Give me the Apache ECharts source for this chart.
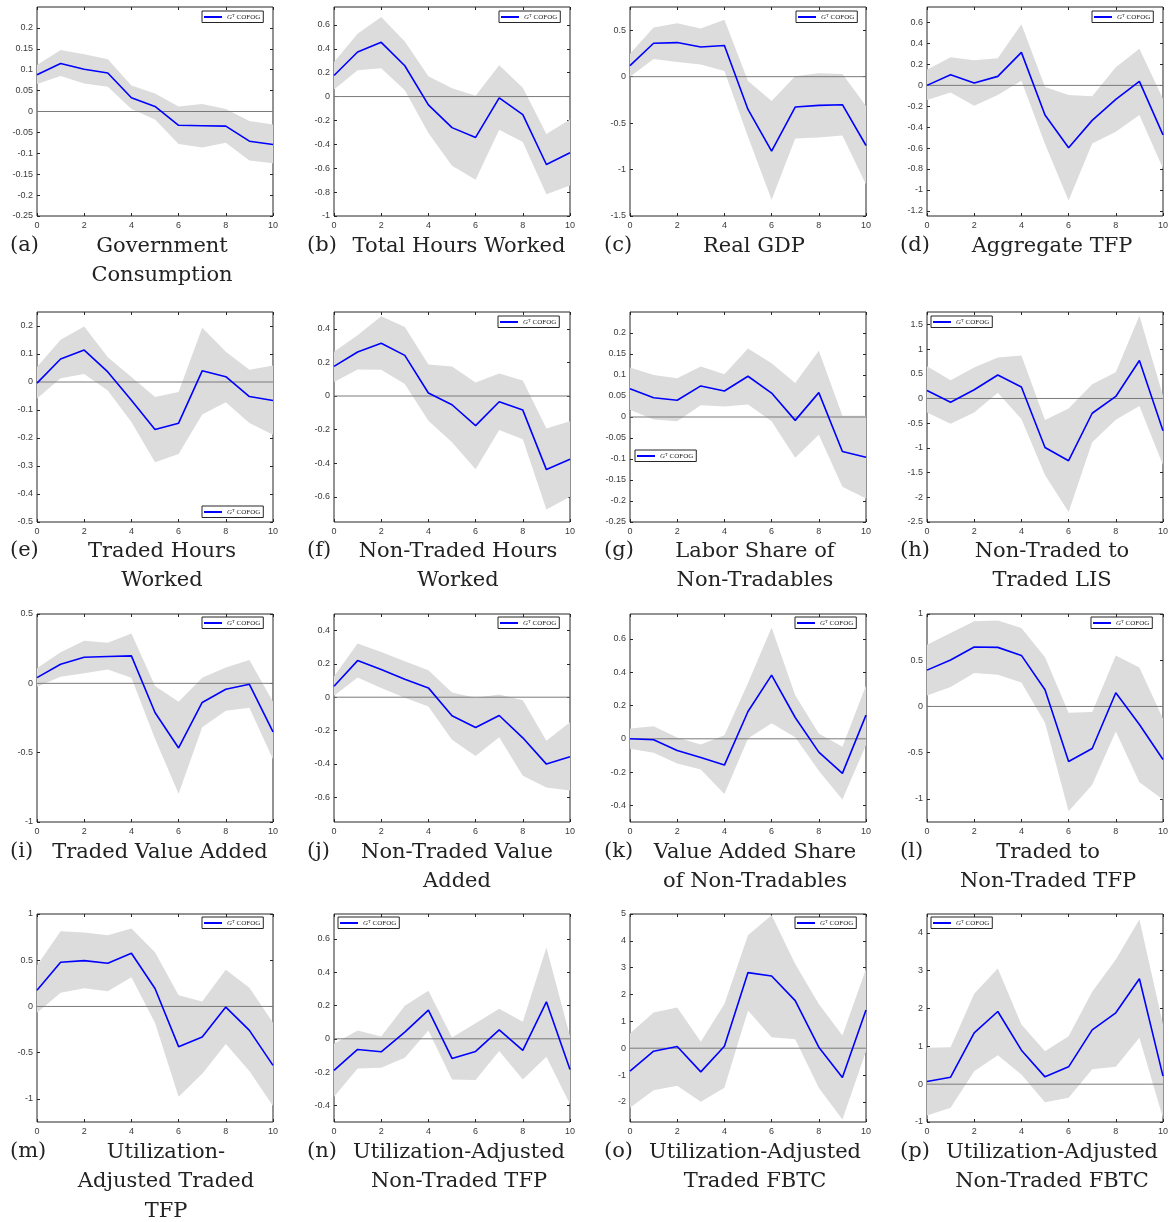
<!DOCTYPE html>
<html><head><meta charset="utf-8">
<script src="https://cdn.jsdelivr.net/npm/echarts@6/dist/echarts.min.js"></script>
<style>html,body{margin:0;padding:0;background:#fff}#c{width:1174px;height:1222px}</style>
</head><body><div id="c"></div>
<script>
// ---------- DATA ----------
const horizon = [0,1,2,3,4,5,6,7,8,9,10];
const xTicks = [0,2,4,6,8,10];
const seriesName = 'GT COFOG';

// (a) Government Consumption
const midA = [0.088,0.115,0.101,0.092,0.033,0.012,-0.033,-0.034,-0.035,-0.071,-0.079];
const hiA  = [0.111,0.147,0.137,0.125,0.062,0.043,0.012,0.018,0.006,-0.023,-0.031];
const loA  = [0.066,0.085,0.067,0.059,0.006,-0.019,-0.078,-0.086,-0.075,-0.117,-0.124];
const ticksA = [-0.25,-0.2,-0.15,-0.1,-0.05,0,0.05,0.1,0.15,0.2];
const rangeA = [-0.25,0.25];
// (b) Total Hours Worked
const midB = [0.176,0.373,0.454,0.258,-0.07,-0.26,-0.342,-0.011,-0.151,-0.569,-0.47];
const hiB  = [0.29,0.527,0.667,0.462,0.171,0.07,0.006,0.263,0.073,-0.314,-0.193];
const loB  = [0.059,0.221,0.238,0.053,-0.305,-0.58,-0.697,-0.277,-0.381,-0.818,-0.745];
const ticksB = [-1,-0.8,-0.6,-0.4,-0.2,0,0.2,0.4,0.6];
const rangeB = [-1,0.75];
// (c) Real GDP
const midC = [0.119,0.36,0.367,0.32,0.335,-0.353,-0.802,-0.327,-0.309,-0.302,-0.741];
const hiC  = [0.248,0.529,0.576,0.518,0.612,-0.047,-0.263,0.004,0.036,0.029,-0.317];
const loC  = [0,0.19,0.158,0.13,0.061,-0.647,-1.324,-0.665,-0.655,-0.633,-1.162];
const ticksC = [-1.5,-1,-0.5,0,0.5];
const rangeC = [-1.5,0.75];
// (d) Aggregate TFP
const midD = [0,0.102,0.022,0.086,0.316,-0.284,-0.597,-0.335,-0.134,0.038,-0.473];
const hiD  = [0.15,0.268,0.24,0.259,0.585,-0.016,-0.093,-0.105,0.173,0.351,-0.131];
const loD  = [-0.14,-0.067,-0.195,-0.093,0.045,-0.562,-1.102,-0.556,-0.444,-0.284,-0.795];
const ticksD = [-1.2,-1,-0.8,-0.6,-0.4,-0.2,0,0.2,0.4,0.6];
const rangeD = [-1.25,0.75];
// (e) Traded Hours Worked
const midE = [-0.004,0.082,0.114,0.036,-0.065,-0.17,-0.147,0.04,0.019,-0.052,-0.066];
const hiE  = [0.054,0.151,0.198,0.088,0.018,-0.054,-0.036,0.194,0.108,0.044,0.059];
const loE  = [-0.059,0.013,0.029,-0.03,-0.143,-0.287,-0.257,-0.116,-0.072,-0.146,-0.188];
const ticksE = [-0.5,-0.4,-0.3,-0.2,-0.1,0,0.1,0.2];
const rangeE = [-0.5,0.25];
// (f) Non-Traded Hours Worked
const midF = [0.176,0.262,0.314,0.242,0.018,-0.052,-0.176,-0.034,-0.084,-0.438,-0.376];
const hiF  = [0.264,0.362,0.474,0.41,0.188,0.176,0.08,0.134,0.092,-0.194,-0.15];
const loF  = [0.084,0.158,0.156,0.072,-0.148,-0.276,-0.436,-0.202,-0.258,-0.676,-0.6];
const ticksF = [-0.6,-0.4,-0.2,0,0.2,0.4];
const rangeF = [-0.75,0.5];
// (g) Labor Share of Non-Tradables
const midG = [0.067,0.046,0.04,0.074,0.062,0.097,0.057,-0.008,0.058,-0.082,-0.096];
const hiG  = [0.118,0.1,0.092,0.12,0.102,0.163,0.128,0.081,0.158,0.003,0.003];
const loG  = [0.017,-0.006,-0.01,0.028,0.025,0.03,-0.01,-0.097,-0.042,-0.166,-0.194];
const ticksG = [-0.25,-0.2,-0.15,-0.1,-0.05,0,0.05,0.1,0.15,0.2];
const rangeG = [-0.25,0.25];
// (h) Non-Traded to Traded LIS
const midH = [0.163,-0.075,0.177,0.476,0.231,-0.993,-1.259,-0.299,0.041,0.769,-0.653];
const hiH  = [0.653,0.367,0.626,0.83,0.871,-0.435,-0.204,0.286,0.531,1.673,0.054];
const loH  = [-0.286,-0.51,-0.286,0.116,-0.415,-1.551,-2.299,-0.884,-0.429,-0.15,-1.347];
const ticksH = [-2.5,-2,-1.5,-1,-0.5,0,0.5,1,1.5];
const rangeH = [-2.5,1.75];
// (i) Traded Value Added
const midI = [0.041,0.138,0.188,0.193,0.198,-0.21,-0.466,-0.138,-0.043,-0.007,-0.35];
const hiI  = [0.109,0.225,0.307,0.292,0.36,-0.019,-0.133,0.041,0.114,0.169,-0.133];
const loI  = [-0.024,0.048,0.072,0.099,0.041,-0.399,-0.797,-0.316,-0.198,-0.176,-0.548];
const ticksI = [-1,-0.5,0,0.5];
const rangeI = [-1,0.5];
// (j) Non-Traded Value Added
const midJ = [0.066,0.22,0.166,0.108,0.056,-0.112,-0.182,-0.11,-0.244,-0.402,-0.358];
const hiJ  = [0.124,0.322,0.272,0.216,0.162,0.028,-0.004,0.016,-0.018,-0.262,-0.15];
const loJ  = [0.008,0.118,0.056,-0.004,-0.056,-0.256,-0.354,-0.24,-0.472,-0.542,-0.56];
const ticksJ = [-0.6,-0.4,-0.2,0,0.2,0.4];
const rangeJ = [-0.75,0.5];
// (k) Value Added Share of Non-Tradables
const midK = [0,-0.006,-0.07,-0.112,-0.158,0.164,0.383,0.128,-0.08,-0.208,0.142];
const hiK  = [0.062,0.076,0.008,-0.034,0.022,0.335,0.669,0.261,0.032,-0.048,0.321];
const loK  = [-0.06,-0.084,-0.148,-0.184,-0.331,0.002,0.094,0.01,-0.192,-0.365,-0.038];
const ticksK = [-0.4,-0.2,0,0.2,0.4,0.6];
const rangeK = [-0.5,0.75];
// (l) Traded to Non-Traded TFP
const midL = [0.393,0.502,0.643,0.639,0.552,0.181,-0.596,-0.455,0.148,-0.195,-0.574];
const hiL  = [0.668,0.794,0.921,0.931,0.848,0.531,-0.069,-0.061,0.552,0.422,-0.134];
const loL  = [0.119,0.209,0.361,0.343,0.26,-0.177,-1.134,-0.848,-0.271,-0.819,-1.007];
const ticksL = [-1,-0.5,0,0.5,1];
const rangeL = [-1.25,1];
// (m) Utilization-Adjusted Traded TFP
const midM = [0.176,0.478,0.496,0.468,0.576,0.194,-0.435,-0.331,-0.007,-0.259,-0.637];
const hiM  = [0.442,0.813,0.799,0.77,0.842,0.586,0.122,0.054,0.396,0.201,-0.176];
const loM  = [-0.068,0.147,0.198,0.165,0.317,-0.176,-0.978,-0.727,-0.406,-0.698,-1.076];
const ticksM = [-1,-0.5,0,0.5,1];
const rangeM = [-1.25,1];
// (n) Utilization-Adjusted Non-Traded TFP
const midN = [-0.19,-0.064,-0.078,0.04,0.172,-0.118,-0.076,0.054,-0.07,0.222,-0.184];
const hiN  = [-0.03,0.05,0.014,0.198,0.289,0.008,0.094,0.18,0.102,0.549,0.016];
const loN  = [-0.349,-0.178,-0.174,-0.114,0.05,-0.244,-0.248,-0.074,-0.244,-0.108,-0.393];
const ticksN = [-0.4,-0.2,0,0.2,0.4,0.6];
const rangeN = [-0.5,0.75];
// (o) Utilization-Adjusted Traded FBTC
const midO = [-0.856,-0.112,0.062,-0.881,0.074,2.816,2.692,1.774,0.037,-1.092,1.427];
const hiO  = [0.546,1.328,1.514,0.236,1.65,4.206,4.95,3.139,1.65,0.471,2.953];
const loO  = [-2.221,-1.563,-1.402,-1.998,-1.476,1.402,0.409,0.335,-1.476,-2.655,-0.112];
const ticksO = [-2,-1,0,1,2,3,4,5];
const rangeO = [-2.75,5];
// (p) Utilization-Adjusted Non-Traded FBTC
const midP = [0.071,0.185,1.358,1.922,0.899,0.194,0.459,1.437,1.887,2.787,0.212];
const hiP  = [0.961,0.979,2.39,3.06,1.578,0.873,1.27,2.443,3.298,4.356,1.578];
const loP  = [-0.829,-0.626,0.344,0.767,0.256,-0.476,-0.362,0.397,0.459,1.226,-0.891];
const ticksP = [-1,0,1,2,3,4];
const rangeP = [-1,4.5];

const tags = ['(a)','(b)','(c)','(d)','(e)','(f)','(g)','(h)','(i)','(j)','(k)','(l)','(m)','(n)','(o)','(p)'];
const captions = [
  'Government\nConsumption','Total Hours Worked','Real GDP','Aggregate TFP',
  'Traded Hours\nWorked','Non-Traded Hours\nWorked','Labor Share of\nNon-Tradables','Non-Traded to\nTraded LIS',
  'Traded Value Added','Non-Traded Value\nAdded','Value Added Share\nof Non-Tradables','Traded to\nNon-Traded TFP',
  'Utilization-\nAdjusted Traded\nTFP','Utilization-Adjusted\nNon-Traded TFP','Utilization-Adjusted\nTraded FBTC','Utilization-Adjusted\nNon-Traded FBTC'
];

const panels = [
  [midA,hiA,loA,ticksA,rangeA],[midB,hiB,loB,ticksB,rangeB],[midC,hiC,loC,ticksC,rangeC],[midD,hiD,loD,ticksD,rangeD],
  [midE,hiE,loE,ticksE,rangeE],[midF,hiF,loF,ticksF,rangeF],[midG,hiG,loG,ticksG,rangeG],[midH,hiH,loH,ticksH,rangeH],
  [midI,hiI,loI,ticksI,rangeI],[midJ,hiJ,loJ,ticksJ,rangeJ],[midK,hiK,loK,ticksK,rangeK],[midL,hiL,loL,ticksL,rangeL],
  [midM,hiM,loM,ticksM,rangeM],[midN,hiN,loN,ticksN,rangeN],[midO,hiO,loO,ticksO,rangeO],[midP,hiP,loP,ticksP,rangeP]
];

// ---------- LAYOUT ----------
const colLeft = [37, 334, 630, 927];
const plotW = 236;
const rowTop = [7, 312, 614, 914];
const rowH = [209, 210, 208, 208];
const tagX = [10, 307, 604, 900];
const captionY = [246, 551, 852, 1152];
const captionX = [162,459,754,1052, 162,458,755,1052, 160,457,755,1048, 166,459,755,1052];
const legendPos = [[202,11],[499,11],[796,11],[1092,11],[202,506],[498,316],[635,450],[931,316],
                   [202,617],[498,617],[795,617],[1091,617],[202,917],[338,917],[795,917],[931,917]];

const axisColor = '#262626';
const labelColor = '#3a3a3a';
const sans = '"Liberation Sans", Arial, sans-serif';
const serif = '"DejaVu Serif", serif';

const grid = [], xAxis = [], yAxis = [], series = [], legend = [], graphic = [];
const N = panels.length;

panels.forEach((p, k) => {
  const [mid, hi, lo, ticks, range] = p;
  const r = Math.floor(k / 4), c = k % 4;
  grid.push({left: colLeft[c], top: rowTop[r], width: plotW, height: rowH[r],
    show: true, borderColor: axisColor, borderWidth: 1, backgroundColor: 'transparent', containLabel: false});
  const tickStyle = {lineStyle: {color: axisColor, width: 1}};
  const noLine = {show: false, onZero: false};
  xAxis[k] = {gridIndex: k, type: 'value', position: 'bottom', min: 0, max: 10,
    axisLine: noLine, splitLine: {show: false},
    axisTick: Object.assign({inside: true, length: 3, customValues: xTicks}, tickStyle),
    axisLabel: {customValues: xTicks, fontSize: 9, color: labelColor, fontFamily: sans, margin: 5}};
  xAxis[k + N] = {gridIndex: k, type: 'value', position: 'top', min: 0, max: 10,
    axisLine: noLine, splitLine: {show: false},
    axisTick: Object.assign({inside: true, length: 3, customValues: xTicks}, tickStyle),
    axisLabel: {show: false}};
  yAxis[k] = {gridIndex: k, type: 'value', position: 'left', min: range[0], max: range[1],
    axisLine: noLine, splitLine: {show: false},
    axisTick: Object.assign({inside: true, length: 3, customValues: ticks}, tickStyle),
    axisLabel: {customValues: ticks, fontSize: 9, color: labelColor, fontFamily: sans, margin: 4,
      formatter: v => String(v)}};
  yAxis[k + N] = {gridIndex: k, type: 'value', position: 'right', min: range[0], max: range[1],
    axisLine: noLine, splitLine: {show: false},
    axisTick: Object.assign({inside: true, length: 3, customValues: ticks}, tickStyle),
    axisLabel: {show: false}};

  series.push({
    type: 'custom', name: 'band' + k, xAxisIndex: k, yAxisIndex: k, silent: true, z: 1,
    data: [[0, 0]],
    renderItem: (params, api) => {
      const pts = [];
      for (let i = 0; i < horizon.length; i++) pts.push(api.coord([horizon[i], hi[i]]));
      for (let i = horizon.length - 1; i >= 0; i--) pts.push(api.coord([horizon[i], lo[i]]));
      return {type: 'polygon', shape: {points: pts}, style: {fill: '#dcdcdc', stroke: null}};
    }
  });
  series.push({
    type: 'line', name: 'zero' + k, xAxisIndex: k, yAxisIndex: k, silent: true, z: 2,
    symbol: 'none', data: [[0, 0], [10, 0]],
    lineStyle: {color: '#7a7a7a', width: 1}, animation: false
  });
  series.push({
    type: 'line', name: seriesName, xAxisIndex: k, yAxisIndex: k, z: 3,
    symbol: 'none', showSymbol: false, color: '#0000ff',
    data: horizon.map((x, i) => [x, mid[i]]),
    lineStyle: {color: '#0000ff', width: 1.6}, animation: false
  });
  legend.push({
    data: [seriesName], left: legendPos[k][0], top: legendPos[k][1], z: 10,
    icon: 'rect', itemWidth: 18, itemHeight: 2, padding: [2, 3, 2, 2],
    borderColor: axisColor, borderWidth: 1, borderRadius: 0, backgroundColor: '#fff',
    selectedMode: false,
    formatter: () => '{g|G}{t|T}{c| COFOG}',
    textStyle: {fontSize: 7, color: '#222', fontFamily: '"Liberation Serif", serif',
      rich: {
        g: {fontSize: 7, fontStyle: 'italic', fontFamily: '"Liberation Serif", serif', color: '#222'},
        t: {fontSize: 4.5, fontFamily: '"Liberation Serif", serif', color: '#222', verticalAlign: 'top', padding: [0, 0, 3, 0]},
        c: {fontSize: 7, fontFamily: '"Liberation Serif", serif', color: '#222'}
      }}
  });
  graphic.push({type: 'text', x: tagX[c], y: captionY[r] - 14.5,
    style: {text: tags[k], font: '21px ' + serif, fill: '#222', align: 'left', verticalAlign: 'top', lineHeight: 29}});
  graphic.push({type: 'text', x: captionX[k], y: captionY[r] - 14.5,
    style: {text: captions[k], font: '21px ' + serif, fill: '#222', align: 'center', verticalAlign: 'top', lineHeight: 29.5}});
});

const chart = echarts.init(document.getElementById('c'), null, {renderer: 'canvas'});
chart.setOption({animation: false, backgroundColor: '#fff', grid, xAxis, yAxis, series, legend, graphic});
</script></body></html>
